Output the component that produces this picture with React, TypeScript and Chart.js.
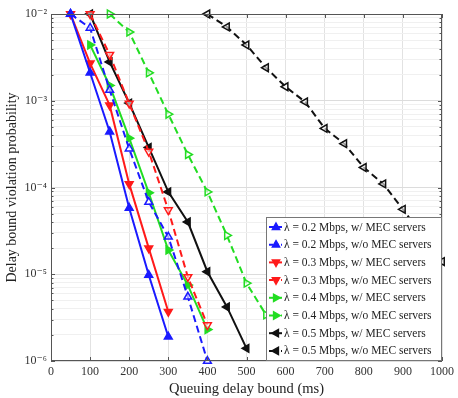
import React, { useEffect, useRef } from 'react';
import { Chart, registerables } from 'chart.js';

Chart.register(...registerables);

// ---------- data ----------
const X_TICKS = [0, 100, 200, 300, 400, 500, 600, 700, 800, 900, 1000];
const Y_DECADES = [-6, -5, -4, -3, -2];
const Y_TICK_LABELS = ['10⁻⁶', '10⁻⁵', '10⁻⁴', '10⁻³', '10⁻²'];
const X_TITLE = 'Queuing delay bound (ms)';
const Y_TITLE = 'Delay bound violation probability';

const SERIES_LABELS = [
  'λ = 0.2 Mbps, w/ MEC servers',
  'λ = 0.2 Mbps, w/o MEC servers',
  'λ = 0.3 Mbps, w/ MEC servers',
  'λ = 0.3 Mbps, w/o MEC servers',
  'λ = 0.4 Mbps, w/ MEC servers',
  'λ = 0.4 Mbps, w/o MEC servers',
  'λ = 0.5 Mbps, w/ MEC servers',
  'λ = 0.5 Mbps, w/o MEC servers',
];

const blue02WithX = [50, 100, 150, 200, 250, 300];
const blue02WithY = [1e-2, 2.1e-3, 4.4e-4, 5.8e-5, 9.8e-6, 1.9e-6];
const blue02WithoutX = [50, 100, 150, 200, 250, 300, 350, 400];
const blue02WithoutY = [1e-2, 6.9e-3, 1.33e-3, 2.8e-4, 6.8e-5, 2.7e-5, 5.5e-6, 1e-6];

const red03WithX = [50, 100, 150, 200, 250, 300];
const red03WithY = [1e-2, 2.7e-3, 8.9e-4, 1.1e-4, 2.0e-5, 3.7e-6];
const red03WithoutX = [100, 150, 200, 250, 300, 350, 400];
const red03WithoutY = [1e-2, 3.4e-3, 9.3e-4, 2.6e-4, 5.5e-5, 9.3e-6, 2.6e-6];

const green04WithX = [100, 150, 200, 250, 300, 350, 400];
const green04WithY = [4.4e-3, 1.5e-3, 3.7e-4, 8.7e-5, 1.9e-5, 7.5e-6, 2.3e-6];
const green04WithoutX = [150, 200, 250, 300, 350, 400, 450, 500, 550];
const green04WithoutY = [1e-2, 6.2e-3, 2.1e-3, 7.0e-4, 2.4e-4, 8.9e-5, 2.8e-5, 7.9e-6, 3.4e-6];

const black05WithX = [100, 150, 200, 250, 300, 350, 400, 450, 500];
const black05WithY = [1e-2, 2.8e-3, 9.4e-4, 2.9e-4, 8.9e-5, 4.0e-5, 1.07e-5, 4.2e-6, 1.4e-6];
const black05WithoutX = [400, 450, 500, 550, 600, 650, 700, 750, 800, 850, 900, 950, 1000];
const black05WithoutY = [1e-2, 7.1e-3, 4.4e-3, 2.4e-3, 1.45e-3, 9.7e-4, 4.8e-4, 3.2e-4, 1.7e-4, 1.1e-4, 5.6e-5, 2.8e-5, 1.4e-5];

const SERIES_X = [blue02WithX, blue02WithoutX, red03WithX, red03WithoutX, green04WithX, green04WithoutX, black05WithX, black05WithoutX];
const SERIES_Y = [blue02WithY, blue02WithoutY, red03WithY, red03WithoutY, green04WithY, green04WithoutY, black05WithY, black05WithoutY];

// ---------- styles ----------
const COLORS = ['#1a1aff', '#1a1aff', '#ff1a1a', '#ff1a1a', '#22dd22', '#22dd22', '#111111', '#111111'];
const ROTATIONS = [0, 0, 180, 180, 90, 90, 270, 270];
const DASHED = [false, true, false, true, false, true, false, true];
const FONT = '"Liberation Serif", "DejaVu Serif", serif';

function drawTriangle(ctx: CanvasRenderingContext2D, x: number, y: number, r: number, rot: number, stroke: string, fill: string) {
  ctx.save();
  ctx.translate(x, y);
  ctx.rotate((rot * Math.PI) / 180);
  ctx.beginPath();
  ctx.moveTo(0, -r);
  ctx.lineTo(r * 0.9, r * 0.6);
  ctx.lineTo(-r * 0.9, r * 0.6);
  ctx.closePath();
  ctx.fillStyle = fill;
  ctx.fill();
  ctx.lineWidth = 1.5;
  ctx.strokeStyle = stroke;
  ctx.setLineDash([]);
  ctx.stroke();
  ctx.restore();
}

const framePlugin = {
  id: 'frame',
  afterDatasetsDraw(chart: any) {
    const { ctx, chartArea } = chart;
    const { left, right, top, bottom } = chartArea;
    ctx.save();
    ctx.strokeStyle = '#555';
    ctx.lineWidth = 1;
    ctx.setLineDash([]);
    ctx.strokeRect(left + 0.5, top + 0.5, right - left - 1, bottom - top - 1);
    const xs = chart.scales.x;
    const ys = chart.scales.y;
    ctx.beginPath();
    X_TICKS.forEach((v) => {
      const px = Math.round(xs.getPixelForValue(v)) + 0.5;
      ctx.moveTo(px, bottom);
      ctx.lineTo(px, bottom - 4);
      ctx.moveTo(px, top);
      ctx.lineTo(px, top + 4);
    });
    Y_DECADES.forEach((e) => {
      for (let k = 1; k <= 9; k++) {
        const v = k * Math.pow(10, e);
        if (v > 1e-2 + 1e-12) break;
        const py = Math.round(ys.getPixelForValue(v)) + 0.5;
        const len = k === 1 ? 4 : 2.5;
        ctx.moveTo(left, py);
        ctx.lineTo(left + len, py);
        ctx.moveTo(right, py);
        ctx.lineTo(right - len, py);
      }
    });
    ctx.stroke();
    ctx.restore();
  },
};

const legendPlugin = {
  id: 'customLegend',
  afterDraw(chart: any) {
    const { ctx, chartArea } = chart;
    const w = 176;
    const h = 144;
    const x0 = chartArea.right - w;
    const y0 = chartArea.bottom - h;
    ctx.save();
    ctx.fillStyle = '#ffffff';
    ctx.fillRect(x0, y0, w, h);
    ctx.strokeStyle = '#777';
    ctx.lineWidth = 1;
    ctx.setLineDash([]);
    ctx.strokeRect(x0 + 0.5, y0 + 0.5, w - 1, h - 1);
    ctx.font = `11.5px ${FONT}`;
    ctx.textBaseline = 'middle';
    ctx.textAlign = 'left';
    SERIES_LABELS.forEach((label, i) => {
      const y = y0 + 10 + i * 17.7;
      ctx.strokeStyle = COLORS[i];
      ctx.lineWidth = 2;
      ctx.setLineDash(DASHED[i] ? [4, 2] : []);
      ctx.beginPath();
      ctx.moveTo(x0 + 3, y);
      ctx.lineTo(x0 + 16, y);
      ctx.stroke();
      drawTriangle(ctx, x0 + 10, y, 4, ROTATIONS[i], COLORS[i], COLORS[i]);
      ctx.fillStyle = '#222';
      ctx.fillText(label, x0 + 18, y + 0.5, w - 20);
    });
    ctx.restore();
  },
};

export default function App() {
  const canvasRef = useRef<HTMLCanvasElement | null>(null);

  useEffect(() => {
    const canvas = canvasRef.current;
    if (!canvas) return;
    const datasets = SERIES_LABELS.map((label, i) => ({
      label,
      data: SERIES_X[i].map((x, j) => ({ x, y: SERIES_Y[i][j] })),
      borderColor: COLORS[i],
      backgroundColor: COLORS[i],
      borderWidth: 2,
      borderDash: DASHED[i] ? [7, 4] : [],
      pointStyle: 'triangle',
      rotation: ROTATIONS[i],
      pointRadius: 4.5,
      pointBorderWidth: 1.5,
      pointBorderColor: COLORS[i],
      pointBackgroundColor: DASHED[i] ? 'rgba(255,255,255,0.6)' : COLORS[i],
      tension: 0,
      clip: 8,
    }));

    const chart = new Chart(canvas, {
      type: 'line',
      data: { datasets },
      plugins: [framePlugin, legendPlugin],
      options: {
        responsive: false,
        animation: false,
        layout: { padding: { top: 14, right: 15, left: 0, bottom: 0 } },
        plugins: {
          legend: { display: false },
          tooltip: { enabled: false },
        },
        scales: {
          x: {
            type: 'linear',
            min: 0,
            max: 1000,
            afterFit: (s: any) => {
              s.height = 37;
            },
            afterBuildTicks: (s: any) => {
              s.ticks = X_TICKS.map((v) => ({ value: v }));
            },
            ticks: {
              autoSkip: false,
              maxRotation: 0,
              padding: 4,
              color: '#333',
              font: { family: FONT, size: 12 },
              callback: (v: any) => String(v),
            },
            grid: { color: '#e2e2e2', drawTicks: false, lineWidth: 1 },
            border: { display: false },
            title: {
              display: true,
              text: X_TITLE,
              color: '#222',
              font: { family: FONT, size: 14.5 },
              padding: { top: 0, bottom: 0 },
            },
          },
          y: {
            type: 'logarithmic',
            min: 1e-6,
            max: 1e-2,
            afterFit: (s: any) => {
              s.width = 51;
            },
            afterBuildTicks: (s: any) => {
              const t: any[] = [];
              Y_DECADES.forEach((e) => {
                for (let k = 1; k <= 9; k++) {
                  const v = k * Math.pow(10, e);
                  if (v > 1e-2 * 1.0001) break;
                  t.push({ value: v, major: k === 1 });
                }
              });
              s.ticks = t;
            },
            ticks: {
              autoSkip: false,
              padding: 4,
              color: '#333',
              font: { family: FONT, size: 12 },
              callback: (v: any) => {
                const e = Math.log10(Number(v));
                const r = Math.round(e);
                if (Math.abs(e - r) > 1e-6) return '';
                const idx = Y_DECADES.indexOf(r);
                return idx >= 0 ? Y_TICK_LABELS[idx] : '';
              },
            },
            grid: {
              drawTicks: false,
              color: (c: any) => {
                const v = c.tick ? c.tick.value : 1;
                const e = Math.log10(v);
                return Math.abs(e - Math.round(e)) < 1e-6 ? '#dcdcdc' : '#f0f0f0';
              },
            },
            border: { display: false },
            title: {
              display: true,
              text: Y_TITLE,
              color: '#222',
              font: { family: FONT, size: 14 },
              padding: { top: 4, bottom: 0 },
            },
          },
        },
      } as any,
    });
    return () => chart.destroy();
  }, []);

  return (
    <div style={{ position: 'absolute', left: 0, top: 0, width: 458, height: 398, background: '#fff' }}>
      <canvas ref={canvasRef} width={458} height={398} />
    </div>
  );
}
